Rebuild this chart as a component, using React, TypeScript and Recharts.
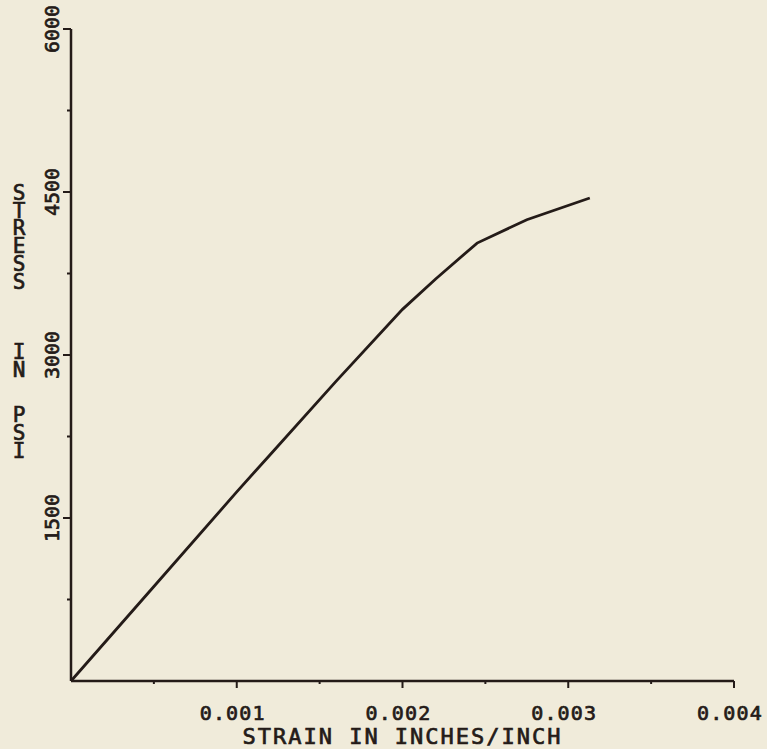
import React from 'react';
import { LineChart, Line, XAxis, YAxis, Label } from 'recharts';

// Data
const strain = [0, 0.0005, 0.001, 0.0012, 0.0016, 0.002, 0.0022, 0.00245, 0.00275, 0.00313];
const stress = [0, 870, 1740, 2080, 2760, 3420, 3700, 4030, 4245, 4445];

const xMajorTicks = [0.001, 0.002, 0.003, 0.004];
const xTickLabels = ['0.001', '0.002', '0.003', '0.004'];
const xMinorTicks = [0.0005, 0.0015, 0.0025, 0.0035];

const yMajorTicks = [1500, 3000, 4500, 6000];
const yTickLabels = ['1500', '3000', '4500', '6000'];
const yMinorTicks = [750, 2250, 3750, 5250];

const xTitle = 'STRAIN IN INCHES/INCH';
const yTitleWords = ['STRESS', 'IN', 'PSI'];
const yTitleWordSlots = [0, 9, 12.55];

const data = strain.map((s, i) => ({ strain: s, stress: stress[i] }));

const INK = '#241b18';
const BG = '#f0ebda';
const FONT = '"DejaVu Sans Mono", monospace';
const TEXT_STROKE = 0.7;

const XTick = (props: any) => {
  const { x, y, payload } = props;
  const idx = xMajorTicks.indexOf(payload.value);
  const isMajor = idx >= 0;
  const isMinor = xMinorTicks.indexOf(payload.value) >= 0;
  if (!isMajor && !isMinor) return <g />;
  return (
    <g>
      <line x1={x} x2={x} y1={y} y2={y + (isMajor ? 7 : 3)} stroke={INK} strokeWidth={2} />
      {isMajor && (
        <text x={x - 4} y={y + 39} textAnchor="middle" fill={INK} stroke={INK} strokeWidth={TEXT_STROKE}
          fontFamily={FONT} fontSize={20} letterSpacing={1.2}>
          {xTickLabels[idx]}
        </text>
      )}
    </g>
  );
};

const YTick = (props: any) => {
  const { x, y, payload } = props;
  const idx = yMajorTicks.indexOf(payload.value);
  const isMajor = idx >= 0;
  const isMinor = yMinorTicks.indexOf(payload.value) >= 0;
  if (!isMajor && !isMinor) return <g />;
  const lx = x - 12;
  return (
    <g>
      <line x1={x} x2={x - (isMajor ? 8 : 4)} y1={y} y2={y} stroke={INK} strokeWidth={2} />
      {isMajor && (
        <text x={lx} y={y} textAnchor="middle" fill={INK} stroke={INK} strokeWidth={TEXT_STROKE}
          fontFamily={FONT} fontSize={20}
          transform={`rotate(-90, ${lx}, ${y})`}>
          {yTickLabels[idx]}
        </text>
      )}
    </g>
  );
};

const YTitle = () => {
  const pitch = 17.7;
  const startY = 200;
  const items: { c: string; y: number }[] = [];
  yTitleWords.forEach((w, wi) => {
    w.split('').forEach((c, ci) => {
      items.push({ c, y: startY + (yTitleWordSlots[wi] + ci) * pitch });
    });
  });
  return (
    <g>
      {items.map((it, i) => (
        <text key={i} x={19} y={it.y} textAnchor="middle" fill={INK} stroke={INK} strokeWidth={TEXT_STROKE}
          fontFamily={FONT} fontSize={21}>
          {it.c}
        </text>
      ))}
    </g>
  );
};

const XTitle = (props: any) => {
  const { viewBox } = props;
  const cx = viewBox ? viewBox.x + viewBox.width / 2 : 402;
  const top = viewBox ? viewBox.y : 681;
  return (
    <text x={cx} y={top + 63} textAnchor="middle" fill={INK} stroke={INK} strokeWidth={TEXT_STROKE}
      fontFamily={FONT} fontSize={22} letterSpacing={2}>
      {xTitle}
    </text>
  );
};

export default function App() {
  const allX = [0, ...xMinorTicks, ...xMajorTicks].sort((a, b) => a - b);
  const allY = [0, ...yMinorTicks, ...yMajorTicks].sort((a, b) => a - b);
  return (
    <div style={{ position: 'fixed', left: 0, top: 0, width: 767, height: 749, background: BG }}>
      <LineChart width={767} height={749} data={data} margin={{ top: 29, right: 33, left: 0, bottom: 0 }}>
        <XAxis
          dataKey="strain"
          type="number"
          domain={[0, 0.004]}
          ticks={allX}
          interval={0}
          height={68}
          tickLine={false}
          tickSize={0}
          tickMargin={0}
          tick={<XTick />}
          axisLine={{ stroke: INK, strokeWidth: 2.5 }}
        >
          <Label content={<XTitle />} position="bottom" />
        </XAxis>
        <YAxis
          type="number"
          domain={[0, 6000]}
          ticks={allY}
          interval={0}
          width={71}
          tickLine={false}
          tickSize={0}
          tickMargin={0}
          tick={<YTick />}
          axisLine={{ stroke: INK, strokeWidth: 2.5 }}
        >
          <Label content={<YTitle />} position="left" />
        </YAxis>
        <Line
          type="linear"
          dataKey="stress"
          stroke={INK}
          strokeWidth={2.8}
          dot={false}
          isAnimationActive={false}
        />
      </LineChart>
    </div>
  );
}
